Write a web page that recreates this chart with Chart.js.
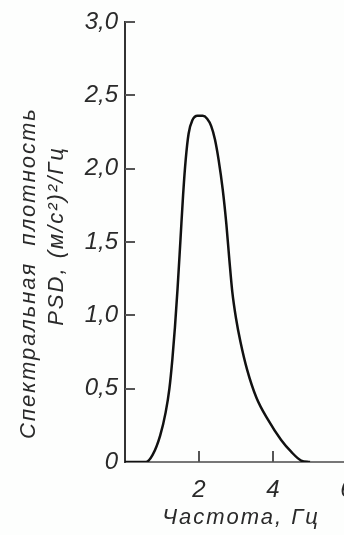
<!DOCTYPE html>
<html>
<head>
<meta charset="utf-8">
<script src="https://cdn.jsdelivr.net/npm/chart.js@4"></script>
<style>
  html, body { margin: 0; padding: 0; background: #fdfefd; overflow: hidden; }
  #wrap { position: relative; width: 344px; height: 535px; overflow: hidden; }
  #c { position: absolute; left: 0; top: 0; }
</style>
</head>
<body>
<div id="wrap"><canvas id="c" width="350" height="535"></canvas></div>
<script>
// частота, Гц
const freq = [0, 0.57, 0.75, 0.95, 1.1, 1.2, 1.28, 1.35, 1.42, 1.5, 1.57, 1.64, 1.72, 1.82, 1.96, 2.1, 2.22, 2.33, 2.43, 2.53, 2.64, 2.74, 2.82, 2.9, 3.0, 3.12, 3.3, 3.55, 3.86, 4.22, 4.49, 4.76, 5.0];
// PSD, (м/с²)²/Гц
const psd = [0, 0, 0.05, 0.18, 0.34, 0.5, 0.7, 0.92, 1.18, 1.52, 1.82, 2.06, 2.24, 2.33, 2.36, 2.36, 2.34, 2.29, 2.2, 2.06, 1.86, 1.62, 1.38, 1.16, 0.98, 0.82, 0.63, 0.44, 0.29, 0.15, 0.07, 0.01, 0];

const yTitle1 = 'Спектральная  плотность';
const yTitle2 = 'PSD, (м/с²)²/Гц';
const xTitle = 'Частота, Гц';

const fontFam = '"Liberation Sans", Arial, sans-serif';

// inward tick marks + axis titles
const decor = {
  id: 'decor',
  afterDraw(chart) {
    const ctx = chart.ctx;
    const xs = chart.scales.x, ys = chart.scales.y;
    const a = chart.chartArea;
    ctx.save();
    ctx.strokeStyle = '#555';
    ctx.lineWidth = 2;
    ys.ticks.forEach(t => {
      if (t.value === 0) return;
      const py = Math.round(ys.getPixelForValue(t.value));
      ctx.beginPath(); ctx.moveTo(a.left, py); ctx.lineTo(a.left + 10, py); ctx.stroke();
    });
    xs.ticks.forEach(t => {
      if (t.value === 0) return;
      const px = Math.round(xs.getPixelForValue(t.value));
      ctx.beginPath(); ctx.moveTo(px, a.bottom); ctx.lineTo(px, a.bottom - 11); ctx.stroke();
    });

    ctx.fillStyle = '#2a2a2a';
    ctx.font = 'italic 22px ' + fontFam;
    ctx.textAlign = 'center';
    ctx.textBaseline = 'middle';
    ctx.letterSpacing = '2px';
    ctx.fillText(xTitle, 241, 518);

    ctx.save();
    ctx.translate(29, 273);
    ctx.rotate(-Math.PI / 2);
    ctx.fillText(yTitle1, 0, 0);
    ctx.restore();

    ctx.save();
    ctx.translate(57, 236);
    ctx.rotate(-Math.PI / 2);
    ctx.fillText(yTitle2, 0, 0);
    ctx.restore();
    ctx.restore();
  }
};

const noPad = s => { s.paddingLeft = 0; s.paddingRight = 0; s.paddingTop = 0; s.paddingBottom = 0; };

new Chart(document.getElementById('c'), {
  type: 'line',
  data: {
    datasets: [{
      data: freq.map((f, i) => ({ x: f, y: psd[i] })),
      borderColor: '#111',
      borderWidth: 2.5,
      pointRadius: 0,
      fill: false,
      cubicInterpolationMode: 'monotone'
    }]
  },
  options: {
    responsive: false,
    animation: false,
    layout: { padding: { top: 22, right: 3, left: 0, bottom: 0 } },
    plugins: { legend: { display: false }, tooltip: { enabled: false } },
    scales: {
      x: {
        type: 'linear',
        min: 0, max: 6,
        afterFit: s => { s.height = 73; noPad(s); },
        grid: { display: false, drawTicks: false },
        border: { display: true, color: '#777', width: 2 },
        ticks: {
          stepSize: 2,
          padding: 14,
          color: '#2a2a2a',
          font: { family: fontFam, size: 24, style: 'italic' },
          callback: v => v === 0 ? '' : String(v)
        }
      },
      y: {
        min: 0, max: 3,
        afterFit: s => { s.width = 125; noPad(s); },
        grid: { display: false, drawTicks: false },
        border: { display: true, color: '#333', width: 2 },
        ticks: {
          stepSize: 0.5,
          padding: 7,
          color: '#2a2a2a',
          font: { family: fontFam, size: 24, style: 'italic' },
          callback: v => v === 0 ? '0' : v.toFixed(1).replace('.', ',')
        }
      }
    }
  },
  plugins: [decor]
});
</script>
</body>
</html>
